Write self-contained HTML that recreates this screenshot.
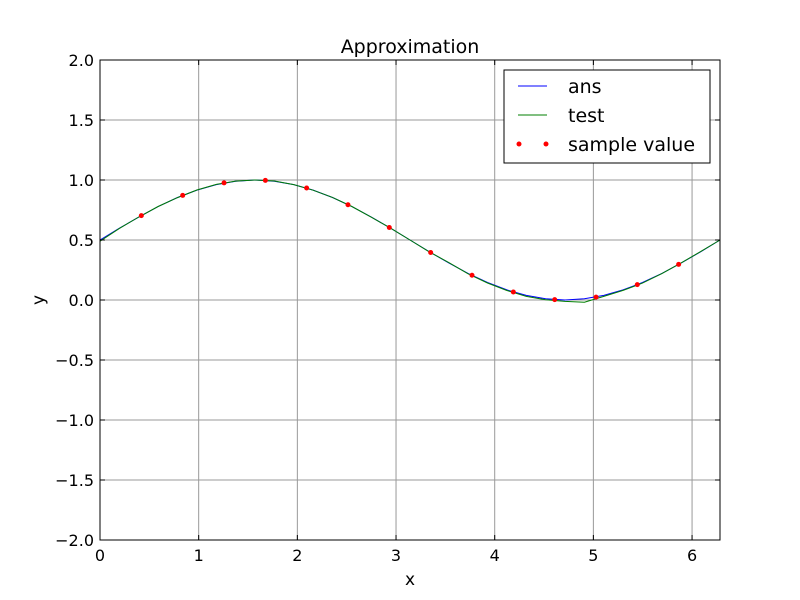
<!DOCTYPE html>
<html><head><meta charset="utf-8"><style>
body{margin:0;background:#fff}
svg{display:block;font-family:"DejaVu Sans","Liberation Sans",sans-serif}
</style></head><body>
<svg id="chart" width="800" height="600">
<rect x="0" y="0" width="800" height="600" fill="#fff"/>
<text x="410" y="53" font-size="19" text-anchor="middle">Approximation</text>
<text x="410" y="585" font-size="17" text-anchor="middle">x</text>
<text x="44" y="300" font-size="17" text-anchor="middle" transform="rotate(-90 44 300)">y</text>
<g id="grid"></g>
<g id="series"></g>
<rect x="100" y="60" width="620" height="480" fill="none" stroke="#000" stroke-width="1"/>
<g id="ticks"></g>
<g>
<rect x="504" y="70" width="206" height="93" fill="#fff" stroke="#000"/>
<line x1="518" y1="86" x2="547" y2="86" stroke="#0000ff"/>
<text x="568" y="93" font-size="19">ans</text>
<line x1="518" y1="115" x2="547" y2="115" stroke="#007f00"/>
<text x="568" y="122" font-size="19">test</text>
<circle cx="519" cy="144" r="2.5" fill="#ff0000"/>
<circle cx="546" cy="144" r="2.5" fill="#ff0000"/>
<text x="568" y="151" font-size="19">sample value</text>
</g>
</svg>
<script>
const xTicks=[0,1,2,3,4,5,6];
const xTickLabels=["0","1","2","3","4","5","6"];
const yTicks=[-2,-1.5,-1,-0.5,0,0.5,1,1.5,2];
const yTickLabels=["\u22122.0","\u22121.5","\u22121.0","\u22120.5","0.0","0.5","1.0","1.5","2.0"];
const curveStep=0.19635;
const ansValues=[.5,.598,.691,.778,.854,.916,.962,.990,1.0,.990,.962,.916,.854,.778,.691,.598,.5,.402,.309,.222,.146,.084,.038,.010,0,.010,.038,.084,.146,.222,.309,.402,.5];
const testValues=[.49,.597,.692,.779,.853,.917,.963,.991,1.0,.992,.962,.915,.855,.779,.690,.598,.5,.401,.312,.218,.142,.079,.030,.002,-.012,-.018,.030,.080,.141,.220,.310,.403,.5];
const sampleX=[0.419,0.838,1.257,1.676,2.094,2.513,2.932,3.351,3.770,4.189,4.608,5.027,5.445,5.864];
const sampleY=[0.703,0.872,0.976,0.997,0.933,0.794,0.604,0.396,0.206,0.067,0.003,0.024,0.128,0.297];
const X0=100,X1=720,Y0=540,Y1=60,XMAX=2*Math.PI;
const sx=v=>X0+v/XMAX*(X1-X0);
const sy=v=>Y0-(v+2)/4*(Y0-Y1);
const NS="http://www.w3.org/2000/svg";
function mk(t,a,p){const e=document.createElementNS(NS,t);for(const k in a)e.setAttribute(k,a[k]);p.appendChild(e);return e;}
const grid=document.getElementById('grid'),ticks=document.getElementById('ticks'),series=document.getElementById('series');
xTicks.forEach((v,i)=>{const x=sx(v);
const g=mk('line',{x1:x,y1:Y1,x2:x,y2:Y0,stroke:'#999','stroke-width':1},grid);


const t1=mk('line',{x1:x,y1:Y0,x2:x,y2:Y0-5,stroke:'#000'},ticks);


const t2=mk('line',{x1:x,y1:Y1,x2:x,y2:Y1+5,stroke:'#000'},ticks);


const l=mk('text',{x:x,y:Y0+21,'font-size':16,'text-anchor':'middle'},ticks);l.textContent=xTickLabels[i];

});
yTicks.forEach((v,i)=>{const y=sy(v);
const g=mk('line',{x1:X0,y1:y,x2:X1,y2:y,stroke:'#999','stroke-width':1},grid);


const t1=mk('line',{x1:X0,y1:y,x2:X0+5,y2:y,stroke:'#000'},ticks);


const t2=mk('line',{x1:X1,y1:y,x2:X1-5,y2:y,stroke:'#000'},ticks);


const l=mk('text',{x:X0-6,y:y+6,'font-size':16,'text-anchor':'end'},ticks);l.textContent=yTickLabels[i];

});
function pts(vals){return vals.map((v,i)=>sx(Math.min(i*curveStep,XMAX)).toFixed(1)+','+sy(v).toFixed(1)).join(' ');}
const a=mk('polyline',{points:pts(ansValues),fill:'none',stroke:'#0000ff','stroke-width':1},series);


const t=mk('polyline',{points:pts(testValues),fill:'none',stroke:'#007f00','stroke-width':1},series);


sampleX.forEach((v,i)=>{const c=mk('circle',{cx:sx(v),cy:sy(sampleY[i]),r:2.5,fill:'#ff0000'},series);

});
</script>
</body></html>
